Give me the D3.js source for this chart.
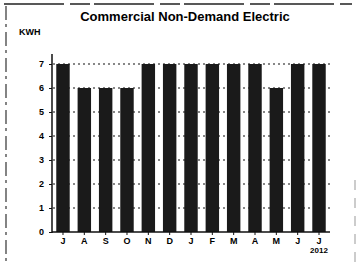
<!DOCTYPE html>
<html>
<head>
<meta charset="utf-8">
<script src="https://cdn.jsdelivr.net/npm/d3@7"></script>
<style>
  body { margin: 0; background: #fff; }
  svg { display: block; font-family: "Liberation Sans", Arial, sans-serif; }
</style>
</head>
<body>
<div id="chart"></div>
<script>
// monthly KWH bars, Jul 2011 – Jul 2012
const months = ['J', 'A', 'S', 'O', 'N', 'D', 'J', 'F', 'M', 'A', 'M', 'J', 'J'];
const kwh = [7, 6, 6, 6, 7, 7, 7, 7, 7, 7, 6, 7, 7];
const yTicks = [0, 1, 2, 3, 4, 5, 6, 7];

const W = 356, H = 269;
const svg = d3.select('#chart').append('svg').attr('width', W).attr('height', H);

// scanned page frame (dashed)
svg.append('line').attr('x1', 4).attr('x2', 352).attr('y1', 4).attr('y2', 4)
  .attr('stroke', '#222').attr('stroke-width', 1.5).attr('stroke-dasharray', '60 6 20 4');
svg.append('line').attr('x1', 6).attr('x2', 6).attr('y1', 6).attr('y2', 262)
  .attr('stroke', '#333').attr('stroke-width', 1.2).attr('stroke-dasharray', '14 4 3 5');
svg.append('line').attr('x1', 355).attr('x2', 355).attr('y1', 180).attr('y2', 262)
  .attr('stroke', '#999').attr('stroke-width', 1).attr('stroke-dasharray', '10 8');

const x = d3.scaleBand().domain(d3.range(months.length)).range([52, 330]).paddingInner(0.37).paddingOuter(0.2);
const y = d3.scaleLinear().domain([0, 7]).range([232, 64]);

// title and unit
svg.append('text').attr('x', 185).attr('y', 21).attr('text-anchor', 'middle')
  .style('font-size', '13px').style('font-weight', 'bold').text('Commercial Non-Demand Electric');
svg.append('text').attr('x', 19).attr('y', 35)
  .style('font-size', '9px').style('font-weight', 'bold').text('KWH');

// dotted gridlines
svg.append('g').selectAll('line').data(yTicks.filter(d => d > 0)).enter().append('line')
  .attr('x1', 53).attr('x2', 330)
  .attr('y1', d => y(d)).attr('y2', d => y(d))
  .attr('stroke', '#111').attr('stroke-width', 1.2).attr('stroke-dasharray', '2 3');

// bars
svg.append('g').selectAll('rect').data(kwh).enter().append('rect')
  .attr('x', (d, i) => x(i))
  .attr('y', d => y(d))
  .attr('width', x.bandwidth())
  .attr('height', d => y(0) - y(d))
  .attr('fill', '#1a1a1a');

// y axis
const yAxis = svg.append('g').attr('transform', 'translate(52,0)')
  .call(d3.axisLeft(y).tickValues(yTicks).tickSize(3).tickFormat(d3.format('d')));
yAxis.select('.domain').remove();
yAxis.selectAll('.tick line').attr('stroke', '#111');
yAxis.selectAll('text').style('font-size', '9px').style('font-weight', 'bold').attr('x', -8);
svg.append('line').attr('x1', 52).attr('x2', 52).attr('y1', 54).attr('y2', 233)
  .attr('stroke', '#111').attr('stroke-width', 1.5);

// x axis
const xAxis = svg.append('g').attr('transform', 'translate(0,232)')
  .call(d3.axisBottom(x).tickSize(3).tickFormat(i => months[i]));
xAxis.select('.domain').attr('d', 'M52,0H330').attr('stroke', '#111').attr('stroke-width', 1.5);
xAxis.selectAll('.tick line').attr('stroke', '#111');
xAxis.selectAll('text').style('font-size', '9px').style('font-weight', 'bold').attr('y', 6);

svg.append('text').attr('x', x(12) + x.bandwidth() / 2).attr('y', 253).attr('text-anchor', 'middle')
  .style('font-size', '8px').style('font-weight', 'bold').text('2012');
</script>
</body>
</html>
